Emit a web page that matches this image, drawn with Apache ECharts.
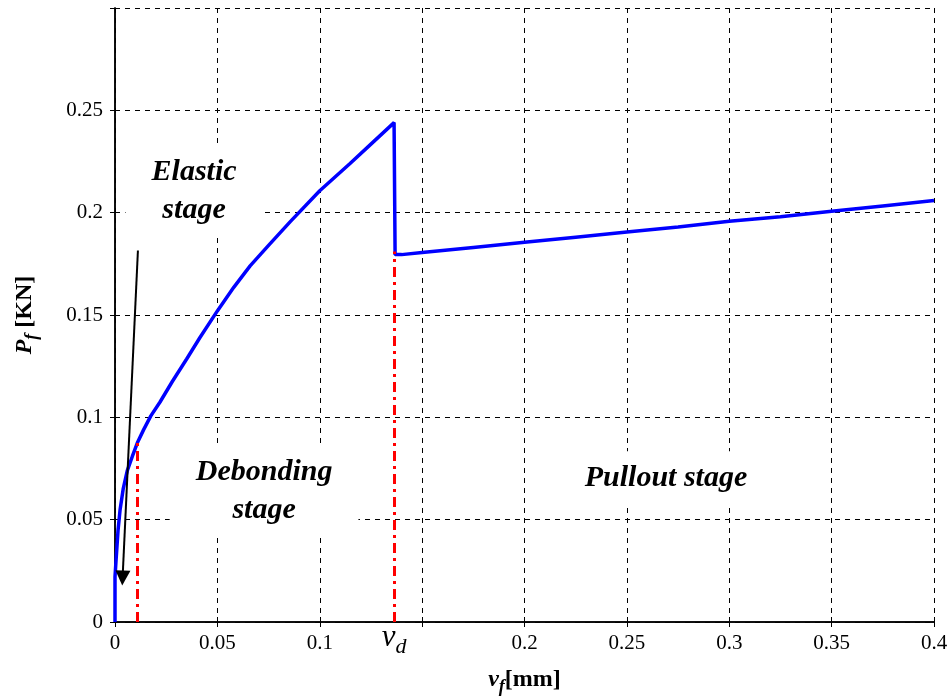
<!DOCTYPE html>
<html>
<head>
<meta charset="utf-8">
<script src="https://cdn.jsdelivr.net/npm/echarts@6/dist/echarts.min.js"></script>
<style>html,body{margin:0;padding:0;background:#fff}#c{width:951px;height:697px}</style>
</head>
<body>
<div id="c"></div>
<script>
// Load-displacement curve P_f vs v_f
const vf = [0, 0, 0.0005, 0.0015, 0.0025, 0.004, 0.006, 0.0085, 0.0111, 0.014, 0.0175, 0.022, 0.028, 0.035, 0.0415, 0.05, 0.058, 0.066, 0.075, 0.0855, 0.1, 0.1148, 0.125, 0.1363, 0.1368, 0.14, 0.15, 0.175, 0.2, 0.225, 0.25, 0.275, 0.3, 0.325, 0.35, 0.375, 0.4];
const Pf = [0, 0.022, 0.03, 0.045, 0.055, 0.065, 0.074, 0.081, 0.088, 0.094, 0.1007, 0.1075, 0.1175, 0.1285, 0.139, 0.152, 0.1635, 0.174, 0.184, 0.1955, 0.2107, 0.224, 0.2335, 0.244, 0.1795, 0.1795, 0.1805, 0.183, 0.1855, 0.188, 0.1905, 0.193, 0.1958, 0.198, 0.2007, 0.2033, 0.2059];
// stage boundaries (red dash-dot lines): [x, top y]
const boundX = [0.0111, 0.1363];
const boundTop = [0.088, 0.181];
// arrow: start and end in data coords
const arrowStart = [0.0112, 0.1815];
const arrowEnd = [0.0037, 0.0215];
// stage annotations
const annotText = ['Elastic\nstage', 'Debonding\nstage', 'Pullout stage'];
const annotX = [0.0386, 0.0728, 0.2691];
const annotY = [0.2107, 0.0639, 0.0702];
// axis ranges
const xMin = 0, xMax = 0.4, xStep = 0.05;
const yMin = 0, yMax = 0.3, yStep = 0.05;
const hiddenXTick = 0.15, hiddenYTick = 0.3;

const FONT = '"Times New Roman", "Liberation Serif", serif';
const chart = echarts.init(document.getElementById('c'), null, {renderer: 'canvas'});

function fmt(v) { return String(+v.toFixed(3)); }

const annotSeries = annotText.map((t, i) => ({
  type: 'scatter',
  data: [[annotX[i], annotY[i]]],
  symbolSize: 0,
  silent: true,
  z: 4,
  itemStyle: {opacity: 1},
  emphasis: {disabled: true},
  label: {
    show: true,
    position: 'inside',
    formatter: t,
    fontFamily: FONT,
    fontWeight: 'bold',
    fontStyle: 'italic',
    fontSize: 30,
    lineHeight: 38,
    color: '#000',
    opacity: 1,
    textBorderWidth: 0,
    align: 'center',
    verticalAlign: 'middle',
    backgroundColor: '#ffffff',
    padding: [8, 26, 8, 26]
  }
}));

const option = {
  animation: false,
  backgroundColor: '#fff',
  grid: {left: 115, right: 17, top: 8, bottom: 75, containLabel: false, outerBoundsMode: 'none'},
  xAxis: [{
    type: 'value', min: xMin, max: xMax, interval: xStep,
    axisLine: {show: true, lineStyle: {color: '#000', width: 1.5}},
    axisTick: {show: true, inside: true, length: 5, lineStyle: {color: '#000'}},
    axisLabel: {
      color: '#000', fontFamily: FONT, fontSize: 21, margin: 11,
      formatter: v => Math.abs(v - hiddenXTick) < 1e-9 ? '' : fmt(v)
    },
    splitLine: {show: true, lineStyle: {color: '#000', type: [5, 5], width: 1}},
    name: '{v|v}{f|f}{b|[mm]}',
    nameLocation: 'middle', nameGap: 42,
    nameTextStyle: {
      rich: {
        v: {fontFamily: FONT, fontWeight: 'bold', fontStyle: 'italic', fontSize: 24, color: '#000'},
        f: {fontFamily: FONT, fontWeight: 'bold', fontStyle: 'italic', fontSize: 18, color: '#000', padding: [14, 0, 0, 0]},
        b: {fontFamily: FONT, fontWeight: 'bold', fontSize: 24, color: '#000'}
      }
    }
  }, {
    type: 'value', min: xMin, max: xMax, interval: xStep, position: 'top',
    axisLine: {show: true, lineStyle: {color: '#000', width: 1.5}},
    axisTick: {show: true, inside: true, length: 5, lineStyle: {color: '#000'}},
    axisLabel: {show: false}, splitLine: {show: false}
  }],
  yAxis: [{
    type: 'value', min: yMin, max: yMax, interval: yStep,
    axisLine: {show: true, lineStyle: {color: '#000', width: 1.5}},
    axisTick: {show: true, inside: true, length: 5, lineStyle: {color: '#000'}},
    axisLabel: {
      color: '#000', fontFamily: FONT, fontSize: 21, margin: 12,
      formatter: v => Math.abs(v - hiddenYTick) < 1e-9 ? '' : fmt(v)
    },
    splitLine: {show: true, lineStyle: {color: '#000', type: [5, 5], width: 1}},
    name: '{p|P}{f|f}{b| [KN]}',
    nameLocation: 'middle', nameGap: 74, nameRotate: 90,
    nameTextStyle: {
      rich: {
        p: {fontFamily: FONT, fontWeight: 'bold', fontStyle: 'italic', fontSize: 24, color: '#000'},
        f: {fontFamily: FONT, fontWeight: 'bold', fontStyle: 'italic', fontSize: 18, color: '#000', padding: [14, 0, 0, 0]},
        b: {fontFamily: FONT, fontWeight: 'bold', fontSize: 24, color: '#000'}
      }
    }
  }, {
    type: 'value', min: yMin, max: yMax, interval: yStep, position: 'right',
    axisLine: {show: true, lineStyle: {color: '#000', width: 1.5}},
    axisTick: {show: true, inside: true, length: 5, lineStyle: {color: '#000'}},
    axisLabel: {show: false}, splitLine: {show: false}
  }],
  series: [{
    type: 'line',
    data: vf.map((x, i) => [x, Pf[i]]),
    showSymbol: false,
    symbol: 'none',
    z: 3,
    lineStyle: {color: '#0000ff', width: 3.5},
    markLine: {
      silent: true,
      symbol: ['none', 'none'],
      animation: false,
      lineStyle: {color: '#ff0000', width: 3, type: [10, 5, 3, 5]},
      data: boundX.map((bx, i) => [
        {coord: [bx, 0],
         label: i === 1 ? {
           show: true, position: 'start', distance: -4,
           formatter: '{v|v}{d|d}',
           rich: {
             v: {fontFamily: FONT, fontStyle: 'italic', fontSize: 31, color: '#000'},
             d: {fontFamily: FONT, fontStyle: 'italic', fontSize: 22, color: '#000', padding: [18, 0, 0, 0]}
           }
         } : {show: false}},
        {coord: [bx, boundTop[i]]}
      ])
    }
  }, {
    type: 'line',
    data: [],
    z: 5,
    markLine: {
      silent: true,
      animation: false,
      symbol: ['none', 'triangle'],
      symbolSize: 15,
      lineStyle: {color: '#000', width: 2, type: 'solid', opacity: 1},
      itemStyle: {color: '#000'},
      label: {show: false},
      data: [[{coord: arrowStart}, {coord: arrowEnd}]]
    }
  }].concat(annotSeries)
};
chart.setOption(option);
</script>
</body>
</html>
